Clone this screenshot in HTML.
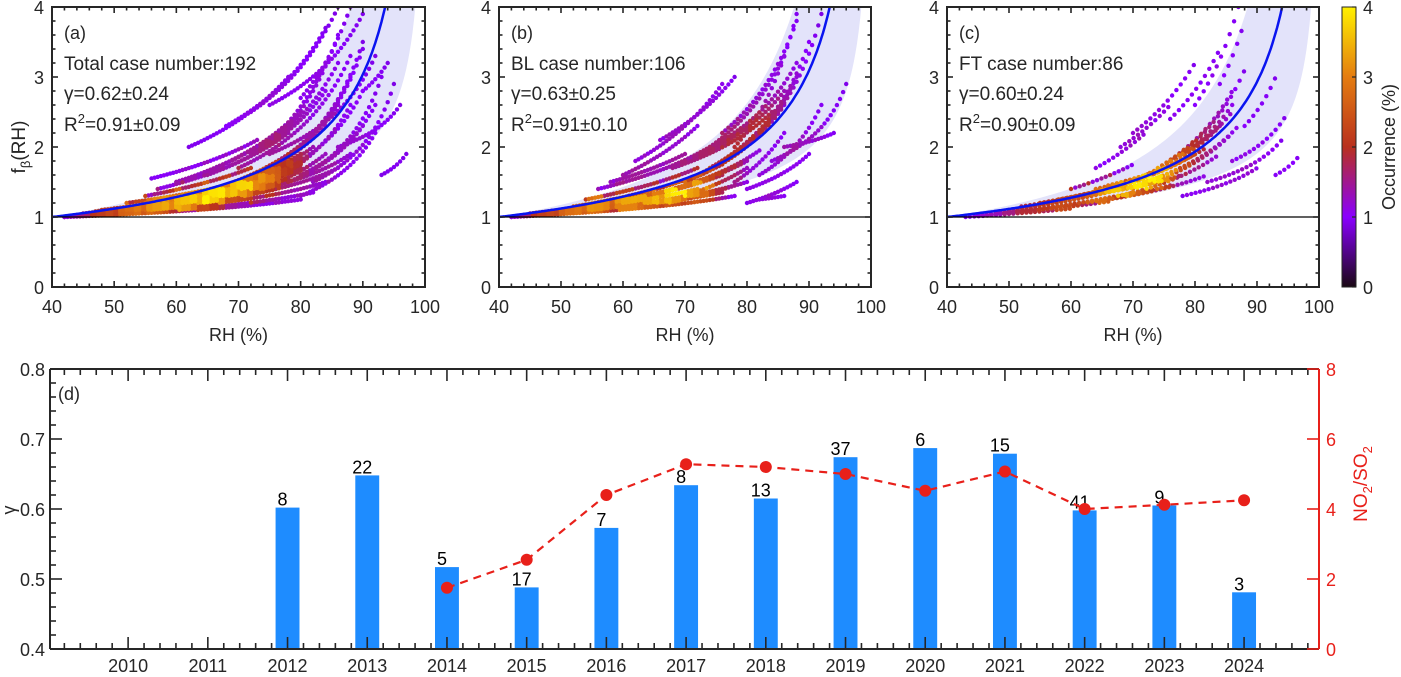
<!DOCTYPE html>
<html><head><meta charset="utf-8">
<style>
html,body{margin:0;padding:0;background:#fff;}
svg{display:block;font-family:"Liberation Sans",Arial,sans-serif;}
</style></head>
<body>
<svg id="fig" width="1401" height="677" viewBox="0 0 1401 677" xmlns="http://www.w3.org/2000/svg"></svg>
<script>
// ===== Data: panels a-c, each case trail: start RH, start f, end RH, end f =====
const rsA = [42,42,43,44,45,46,47,48,50,52,55,57,60,56,62,68,72,75,80,75,80,82,84,86,78,93,90,42,44,46,50,52,54,58,60,64,66, 60,65,70,72,74,76,78,80,82,70,72,74,55,58,62,64];
const fsA = [1.0,1.0,1.02,1.03,1.05,1.06,1.08,1.1,1.12,1.2,1.3,1.4,1.5,1.55,2.0,2.3,2.5,2.6,2.7,1.9,1.3,1.5,1.8,2.0,1.5,1.6,2.8,1.0,1.02,1.05,1.08,1.1,1.15,1.2,1.25,1.3,1.35, 1.5,1.6,1.7,1.9,2.0,2.1,1.7,1.6,2.2,1.3,1.4,1.45,1.2,1.25,1.3,1.35];
const reA = [80,82,84,86,88,78,76,80,75,74,72,78,78,73,78,84,86,90,88,92,92,95,93,96,90,97,94,76,78,74,72,80,82,84,86,88,90, 80,84,88,86,84,86,90,92,90,84,86,88,78,80,80,78];
const feA = [1.25,1.35,1.5,1.7,1.9,1.5,1.6,1.75,1.55,1.6,1.7,2.2,2.35,2.1,3.0,3.7,4.0,3.9,4.0,3.3,2.2,2.9,3.0,2.6,2.3,1.9,3.2,1.4,1.55,1.45,1.4,1.7,2.0,2.3,2.6,3.0,3.4, 2.5,2.8,3.3,3.2,3.2,3.6,2.8,2.6,3.5,1.9,2.3,2.6,1.75,1.85,1.9,1.7];
const rsB = [42,42,43,44,45,46,48,50,52,54,56,58,60,62,66,70,72,74,76,78,80,80,82,84,86,82,66,64,60, 68,70,72,74,76,78,66,68];
const fsB = [1.0,1.0,1.02,1.03,1.05,1.06,1.08,1.1,1.15,1.25,1.4,1.5,1.6,1.8,2.1,1.5,1.6,1.7,1.8,2.0,1.2,1.4,1.6,1.8,2.0,1.25,1.2,1.15,1.15, 1.7,1.8,1.9,2.0,2.2,1.5,1.35,1.4];
const reB = [78,76,74,80,72,76,74,70,76,72,74,70,72,76,78,86,88,90,92,88,88,90,92,96,94,86,80,78,76, 84,86,88,86,88,86,80,82];
const feB = [1.3,1.4,1.35,1.5,1.4,1.6,1.55,1.45,1.75,1.7,2.0,1.9,2.3,2.9,3.0,2.6,3.0,3.5,3.9,3.9,1.5,1.9,2.6,2.9,2.2,1.3,1.7,1.45,1.35, 2.5,2.8,3.2,3.3,3.8,2.2,1.8,1.95];
const rsC = [43,45,48,50,52,55,58,62,66,68,70,72,60,64,68,70,76,80,84,78,82,86,88,78,93, 64,66,70,72,74,76,62,65];
const fsC = [1.0,1.03,1.05,1.1,1.15,1.2,1.25,1.2,1.25,1.3,1.4,1.5,1.4,1.7,2.0,2.2,2.4,2.6,2.9,1.3,1.5,1.8,2.3,1.9,1.6, 1.4,1.45,1.5,1.6,1.7,1.8,1.3,1.35];
const reC = [60,66,70,75,72,78,80,76,82,84,86,87,70,72,76,80,84,87,88,90,94,95,93,86,97, 80,82,84,86,86,88,78,76];
const feC = [1.12,1.22,1.35,1.6,1.55,1.8,1.9,1.45,1.6,1.9,2.2,2.3,1.75,2.2,2.6,3.2,3.4,4.0,3.8,1.7,2.1,2.5,3.0,2.5,1.9, 1.9,2.0,2.3,2.6,2.8,3.1,1.6,1.55];
const fitGamma = [0.62,0.63,0.60];
const fitStd = [0.24,0.25,0.24];
const panelLetters = ['(a)','(b)','(c)'];
const panelCase = ['Total case number:192','BL case number:106','FT case number:86'];
const panelGammaTxt = ['γ=0.62±0.24','γ=0.63±0.25','γ=0.60±0.24'];
const panelR2 = ['0.91±0.09','0.91±0.10','0.90±0.09'];
const rhTicks = [40,50,60,70,80,90,100];
const fTicks = [0,1,2,3,4];
const cbTicks = [0,1,2,3,4];

// ===== Data: panel d =====
const years = [2010,2011,2012,2013,2014,2015,2016,2017,2018,2019,2020,2021,2022,2023,2024];
const barYears = [2012,2013,2014,2015,2016,2017,2018,2019,2020,2021,2022,2023,2024];
const gammaYear = [0.602,0.648,0.517,0.488,0.573,0.634,0.615,0.674,0.687,0.679,0.598,0.605,0.481];
const caseCount = ['8','22','5','17','7','8','13','37','6','15','41','9','3'];
const ratioYears = [2014,2015,2016,2017,2018,2019,2020,2021,2022,2023,2024];
const ratioVals = [1.75,2.55,4.40,5.28,5.20,5.00,4.52,5.07,4.00,4.12,4.25];
const gTicks = [0.4,0.5,0.6,0.7,0.8];
const rTicks = [0,2,4,6,8];

const NS='http://www.w3.org/2000/svg';
const svg=document.getElementById('fig');
function mk(tag,attrs,parent){const e=document.createElementNS(NS,tag);for(const k in attrs)e.setAttribute(k,attrs[k]);(parent||svg).appendChild(e);return e;}
function txt(s,x,y,attrs,parent){const e=mk('text',Object.assign({x:x,y:y,'font-size':18,fill:'#262626'},attrs||{}),parent);e.textContent=s;return e;}

const AX='#262626';
const panelsX=[[52,425],[499,871],[947,1319]];
const pTop=7,pBot=287;
const cases=[[rsA,fsA,reA,feA],[rsB,fsB,reB,feB],[rsC,fsC,reC,feC]];
const spacing=[0.5,0.5,0.7];
const stops=[[0,[26,8,20]],[0.25,[138,0,255]],[0.5,[184,48,30]],[0.75,[228,124,16]],[1,[255,240,0]]];
function cmap(t){t=Math.max(0,Math.min(1,t));for(let i=1;i<stops.length;i++){if(t<=stops[i][0]){const a=stops[i-1],b=stops[i];const u=(t-a[0])/(b[0]-a[0]);const c=a[1].map((v,j)=>Math.round(v+(b[1][j]-v)*u));return 'rgb('+c.join(',')+')';}}return 'rgb(255,240,0)';}
function fcurve(g,rh){return Math.pow((100-rh)/60,-g);}

const defs=mk('defs',{});
const grad=mk('linearGradient',{id:'cbg',x1:0,y1:1,x2:0,y2:0},defs);
for(let i=0;i<=20;i++){mk('stop',{offset:i/20,'stop-color':cmap(i/20)},grad);}

for(let p=0;p<3;p++){
  const [L,R]=panelsX[p];
  const sx=v=>L+(v-40)/60*(R-L);
  const sy=v=>pBot-(v/4)*(pBot-pTop);
  const g=mk('g',{});
  
  
  const cid='clip'+p;
  const cp=mk('clipPath',{id:cid},defs);mk('rect',{x:L,y:pTop,width:R-L,height:pBot-pTop},cp);
  const g1=fitGamma[p]-fitStd[p],g2=fitGamma[p]+fitStd[p];
  const up=[],lo=[];
  for(let rh=40;rh<=99.5;rh+=0.25){up.push([sx(rh),sy(Math.min(fcurve(g2,rh),4.5))]);lo.push([sx(rh),sy(Math.min(fcurve(g1,rh),4.5))]);}
  const d='M'+up.map(q=>q.join(',')).join('L')+'L'+lo.reverse().map(q=>q.join(',')).join('L')+'Z';
  const band=mk('path',{d:d,fill:'#e3e3fa','clip-path':'url(#'+cid+')'},g);
  
  
  const pts=[];
  const [rs,fs,re,fe]=cases[p];
  for(let i=0;i<rs.length;i++){
    const gam=Math.log(fe[i]/fs[i])/Math.log((100-rs[i])/(100-re[i]));
    const s=fs[i]*Math.pow((100-rs[i])/60,gam);
    for(let rh=rs[i];rh<=re[i]+1e-6;rh+=spacing[p]){const f=s*fcurve(gam,rh);if(f<=4.05)pts.push([sx(rh),sy(f)]);}
  }
  const bins={};const B=7;
  pts.forEach(q=>{const k=Math.floor(q[0]/B)+','+Math.floor(q[1]/B);bins[k]=(bins[k]||0)+1;});
  let mx=0;const dens=pts.map(q=>{const bx=Math.floor(q[0]/B),by=Math.floor(q[1]/B);let c=0;for(let a=-1;a<=1;a++)for(let b=-1;b<=1;b++)c+=bins[(bx+a)+','+(by+b)]||0;if(c>mx)mx=c;return c;});
  const idx=pts.map((q,i)=>i).sort((a,b)=>dens[a]-dens[b]);
  const sg=mk('g',{'clip-path':'url(#'+cid+')'},g);
  
  
  idx.forEach(i=>{const t=Math.pow(dens[i]/mx,1.2);const c=mk('circle',{cx:pts[i][0].toFixed(1),cy:pts[i][1].toFixed(1),r:2.2,fill:cmap(0.22+0.78*t)},sg);
    
    });
  let fd='';for(let rh=40;rh<=99;rh+=0.25){const f=fcurve(fitGamma[p],rh);if(f>4.2)break;fd+=(fd?'L':'M')+sx(rh).toFixed(1)+','+sy(f).toFixed(1);}
  const fc=mk('path',{d:fd,fill:'none',stroke:'#0a14f0','stroke-width':2.5,'clip-path':'url(#'+cid+')'},g);
  
  
  const one=mk('line',{x1:L,x2:R,y1:sy(1),y2:sy(1),stroke:'#000','stroke-width':1.3},g);
  
  
  for(let v=40;v<=100;v+=2){const maj=v%10===0;const x=sx(v);const l=maj?6:3.5;
    mk('line',{x1:x,x2:x,y1:pBot,y2:pBot-l,stroke:AX,'stroke-width':1.6},g);mk('line',{x1:x,x2:x,y1:pTop,y2:pTop+l,stroke:AX,'stroke-width':1.6},g);}
  for(let k=0;k<=20;k++){const v=k*0.2;const maj=k%5===0;const y=sy(v);const l=maj?6:3.5;
    mk('line',{x1:L,x2:L+l,y1:y,y2:y,stroke:AX,'stroke-width':1.6},g);mk('line',{x1:R,x2:R-l,y1:y,y2:y,stroke:AX,'stroke-width':1.6},g);}
  const box=mk('rect',{x:L,y:pTop,width:R-L,height:pBot-pTop,fill:'none',stroke:AX,'stroke-width':2},g);
  
  
  rhTicks.forEach(v=>{const t=txt(String(v),sx(v),313,{'text-anchor':'middle'},g);});
  fTicks.forEach(v=>{const t=txt(String(v),L-8,sy(v)+7,{'text-anchor':'end'},g);});
  const xt=txt('RH (%)',(L+R)/2,341,{'text-anchor':'middle'},g);
  
  
  const t1=txt(panelLetters[p],L+12,39,{},g);
  const t2=txt(panelCase[p],L+12,70,{'font-size':19},g);
  const t3=txt(panelGammaTxt[p],L+12,100,{'font-size':19},g);
  const t4=mk('text',{x:L+12,y:131,'font-size':19,fill:'#262626'},g);
  
  
  t4.innerHTML='R<tspan dy="-8" font-size="13">2</tspan><tspan dy="8">='+panelR2[p]+'</tspan>';
}
const yta=mk('text',{transform:'translate(25,147) rotate(-90)','text-anchor':'middle','font-size':19,fill:'#262626'});


yta.innerHTML='f<tspan dy="5" font-size="13">β</tspan><tspan dy="-5">(RH)</tspan>';
const cbx=1342,cbw=14;
const cb=mk('rect',{x:cbx,y:pTop,width:cbw,height:pBot-pTop,fill:'url(#cbg)',stroke:AX,'stroke-width':1});


cbTicks.forEach(v=>{const y=pBot-v/4*(pBot-pTop);mk('line',{x1:cbx+cbw,x2:cbx+cbw-4,y1:y,y2:y,stroke:AX,'stroke-width':1.2});
  const t=txt(String(v),1363,y+7,{},svg);});
const cbt=txt('Occurrence (%)',0,0,{transform:'translate(1395,147) rotate(-90)','text-anchor':'middle'});



// ===== Panel d =====
const dL=50,dR=1319,dT=369,dB=649;
const xMin=2009.02,xMax=2024.94;
const dx=v=>dL+(v-xMin)/(xMax-xMin)*(dR-dL);
const dyL=v=>dB-(v-0.4)/0.4*(dB-dT);
const dyR=v=>dB-v/8*(dB-dT);
const gd=mk('g',{});


const bw=0.3*(dR-dL)/(xMax-xMin);
barYears.forEach((yr,i)=>{const x=dx(yr),y=dyL(gammaYear[i]);
  const r=mk('rect',{x:x-bw/2,y:y,width:bw,height:dB-y,fill:'#1e8cff'},gd);
  
  
  const t=txt(caseCount[i],x-5,y-2,{'text-anchor':'middle','font-size':18,fill:'#000'},gd);
  
  });
let ld='';ratioYears.forEach((yr,i)=>{ld+=(i?'L':'M')+dx(yr).toFixed(1)+','+dyR(ratioVals[i]).toFixed(1);});
const rl=mk('path',{d:ld,fill:'none',stroke:'#e8201a','stroke-width':2.2,'stroke-dasharray':'8,6'},gd);


ratioYears.forEach((yr,i)=>{const c=mk('circle',{cx:dx(yr),cy:dyR(ratioVals[i]),r:6,fill:'#e8201a'},gd);
  
  });
for(let k=0;;k++){const v=2009.2+k*0.2;if(v>xMax)break;const maj=Math.abs(v-Math.round(v))<0.01;const x=dx(v);const l=maj?12:6;
  mk('line',{x1:x,x2:x,y1:dB,y2:dB-l,stroke:AX,'stroke-width':1.6},gd);mk('line',{x1:x,x2:x,y1:dT,y2:dT+l,stroke:AX,'stroke-width':1.6},gd);}
for(let k=0;k<=20;k++){const v=0.4+k*0.02;const y=dyL(v);const l=(k%5===0)?12:6;mk('line',{x1:dL,x2:dL+l,y1:y,y2:y,stroke:AX,'stroke-width':1.6},gd);}
mk('line',{x1:dL,x2:dR,y1:dT,y2:dT,stroke:AX,'stroke-width':2},gd);
mk('line',{x1:dL,x2:dR,y1:dB,y2:dB,stroke:AX,'stroke-width':2},gd);
mk('line',{x1:dL,x2:dL,y1:dT,y2:dB,stroke:AX,'stroke-width':2},gd);
mk('line',{x1:dR,x2:dR,y1:dT,y2:dB,stroke:'#e8201a','stroke-width':2},gd);
rTicks.forEach(v=>{const y=dyR(v);mk('line',{x1:dR,x2:dR-12,y1:y,y2:y,stroke:'#e8201a','stroke-width':1.6},gd);
  const t=txt(String(v),dR+7,y+7,{fill:'#e8201a'},gd);});
gTicks.forEach(v=>{const t=txt(v.toFixed(1),dL-5,dyL(v)+7,{'text-anchor':'end'},gd);});
years.forEach(v=>{const t=txt(String(v),dx(v),672,{'text-anchor':'middle'},gd);});
const dl=txt('(d)',dL+8,400,{},gd);
const gt=txt('γ',0,0,{transform:'translate(15,510) rotate(-90)','text-anchor':'middle'},gd);


const rt=mk('text',{transform:'translate(1367,484) rotate(-90)','text-anchor':'middle','font-size':19,fill:'#e8201a'},gd);


rt.innerHTML='NO<tspan dy="5" font-size="13">2</tspan><tspan dy="-5">/SO</tspan><tspan dy="5" font-size="13">2</tspan>';
</script>
</body></html>
